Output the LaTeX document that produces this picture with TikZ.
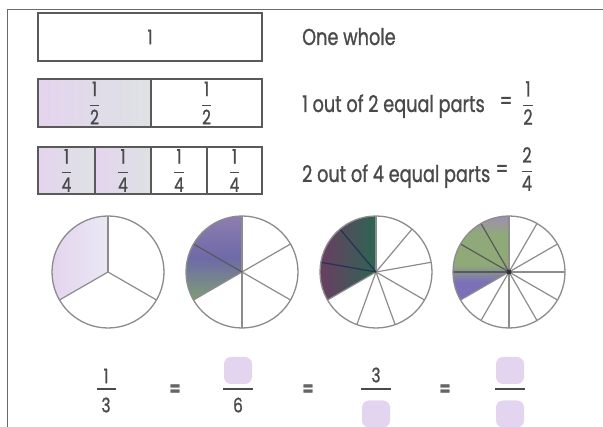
\documentclass[tikz,border=0pt]{standalone}
\usepackage{amsmath}
\usepackage{fontspec}
\setmainfont{Poppins}[FakeStretch=0.77, FakeBold=1]
\definecolor{ink}{HTML}{4A4A4A}
\definecolor{edge}{HTML}{5A5A5A}
\definecolor{pieedge}{HTML}{8C8C8C}
\definecolor{frame}{HTML}{6A6A6A}
\definecolor{boxlav}{HTML}{E3D5EF}
\definecolor{lavA}{HTML}{E4D4EE}
\definecolor{lavB}{HTML}{DCD9EC}
\definecolor{lavC}{HTML}{DDE2E4}
\definecolor{pbA}{HTML}{8E7DB0}
\definecolor{pbB}{HTML}{6E6AA8}
\definecolor{pbC}{HTML}{7E9E74}
\definecolor{pcA}{HTML}{6A3E62}
\definecolor{pcB}{HTML}{2F4A78}
\definecolor{pcC}{HTML}{2E6452}
\definecolor{pdA}{HTML}{A08CB4}
\definecolor{pdB}{HTML}{8FAA78}
\definecolor{pdC}{HTML}{7C70B8}
\pgfdeclareverticalshading{piefour}{100bp}{color(0bp)=(pdC); color(25bp)=(pdC); color(36bp)=(pdC); color(46bp)=(pdB); color(64bp)=(pdB); color(75bp)=(pdA); color(100bp)=(pdA)}
\newcommand\fr[2]{\ensuremath{\dfrac{\text{#1}}{\text{#2}}}}
\begin{document}
\begin{tikzpicture}[x=1pt,y=1pt,
  part/.style={draw=edge, line width=1.1pt, minimum height=48pt, inner sep=0pt, text=ink, font=\fontsize{20}{22}\selectfont},
  lavshade/.style={left color=lavA, middle color=lavB, right color=lavC},
  txt/.style={text=ink, inner sep=0pt, font=\fontsize{23}{26}\selectfont},
  frn/.style={text=ink, inner sep=0pt, font=\fontsize{20}{22}\selectfont},
  eqs/.style={text=ink!85, inner sep=0pt, font=\fontsize{20}{22}\selectfont},
  blank/.style={fill=boxlav, rounded corners=7pt, minimum width=28pt, minimum height=27pt, inner sep=0pt},
  bar/.style={draw=ink, line width=1.1pt},
  spoke/.style={draw=pieedge, line width=1.2pt},
  dspoke/.style={draw=black!65, line width=1.2pt},
  rim/.style={draw=pieedge, line width=1.3pt}]
\useasboundingbox (0,0) rectangle (603,427);
\fill[white] (0,0) rectangle (603,427);
% frame
\draw[frame, line width=1pt] (7,0) -- (7,417) -- (603,417);
% bars
\node[part, minimum width=224pt] (whole) at (150,390) {1};
\node[part, minimum width=113pt, lavshade] (h1) at (94.5,324) {\fr{1}{2}};
\node[part, minimum width=111pt] (h2) at (206.5,324) {\fr{1}{2}};
\node[part, minimum width=57pt, minimum height=47pt, lavshade] (q1) at (66.5,256.5) {\fr{1}{4}};
\node[part, minimum width=56pt, minimum height=47pt, lavshade] (q2) at (123,256.5) {\fr{1}{4}};
\node[part, minimum width=56pt, minimum height=47pt] (q3) at (179,256.5) {\fr{1}{4}};
\node[part, minimum width=55pt, minimum height=47pt] (q4) at (234.5,256.5) {\fr{1}{4}};
% texts
\node[txt, anchor=base west] (t1) at (302,382) {One whole};
\node[txt, anchor=base west] (t2) at (302,315) {1 out of 2 equal parts};
\node[txt] (e2) at (506,324) {=};
\node[txt, font=\fontsize{21}{23}\selectfont] (f2) at (528,324) {\fr{1}{2}};
\node[txt, anchor=base west] (t3) at (302,245) {2 out of 4 equal parts};
\node[txt] (e3) at (502,256) {=};
\node[txt, font=\fontsize{21}{23}\selectfont] (f3) at (527,258) {\fr{2}{4}};
% pies
\def\R{56}
\coordinate (p1) at (108,155);
\coordinate (p2) at (242,155);
\coordinate (p3) at (376,155);
\coordinate (p4) at (509,155);
\shade[left color=lavA, right color=lavB!60!white] (p1) -- ++(90:\R) arc[start angle=90,end angle=210,radius=\R] -- cycle;
\shade[top color=pbA, bottom color=pbC, middle color=pbB] (p2) -- ++(90:\R) arc[start angle=90,end angle=210,radius=\R] -- cycle;
\shade[left color=pcA, middle color=pcB, right color=pcC] (p3) -- ++(90:\R) arc[start angle=90,end angle=210,radius=\R] -- cycle;
\shade[shading=piefour] (p4) -- ++(90:\R) arc[start angle=90,end angle=210,radius=\R] -- cycle;
% spokes
\foreach \a in {90,210,330} \draw[spoke] (p1) -- ++(\a:\R);
\foreach \a in {90,30,-30,-90,210} \draw[spoke] (p2) -- ++(\a:\R);
\draw[dspoke] (p2) -- ++(150:\R);
\foreach \a in {90,50,10,-30,-70,-110,-150} \draw[spoke] (p3) -- ++(\a:\R);
\foreach \a in {130,170} \draw[draw=pcB!70!black, line width=1.2pt] (p3) -- ++(\a:\R);
\foreach \a in {90,60,30,0,-30,-60,-90,-120,-150} \draw[spoke] (p4) -- ++(\a:\R);
\foreach \a in {120,150,180} \draw[dspoke] (p4) -- ++(\a:\R);
\fill[black!80] (p4) circle[radius=2.5pt];
\foreach \p in {p1,p2,p3,p4} \draw[rim] (\p) circle[radius=\R];
% equation
\node[frn] (a1) at (106,51) {1};
\node[frn] (a2) at (106,22) {3};
\coordinate (a1l) at (97,38); \coordinate (a1r) at (116,38);
\draw[bar] (a1l) -- (a1r);
\node[eqs] (eq1) at (175,37) {\textbf{=}};
\node[blank] (b1) at (238,56.5) {};
\node[frn] (b2) at (238,22) {6};
\coordinate (b1l) at (223,38); \coordinate (b1r) at (253,38);
\draw[bar] (b1l) -- (b1r);
\node[eqs] (eq2) at (308,37) {\textbf{=}};
\node[frn] (c1) at (376,52) {3};
\node[blank] (c2) at (376,13) {};
\coordinate (c1l) at (361,38); \coordinate (c1r) at (391,38);
\draw[bar] (c1l) -- (c1r);
\node[eqs] (eq3) at (445,37) {\textbf{=}};
\node[blank] (d1) at (510,56.5) {};
\node[blank] (d2) at (510,13) {};
\coordinate (d1l) at (495,38); \coordinate (d1r) at (525,38);
\draw[bar] (d1l) -- (d1r);
\end{tikzpicture}
\end{document}
